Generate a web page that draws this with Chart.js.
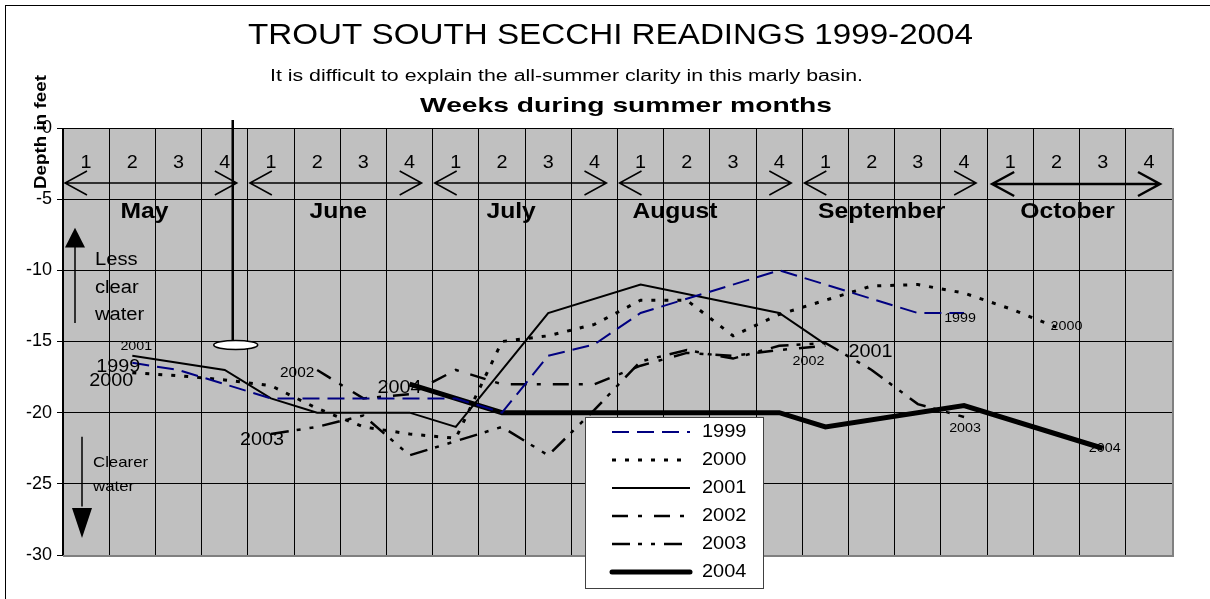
<!DOCTYPE html>
<html>
<head>
<meta charset="utf-8">
<title>Trout South Secchi Readings 1999-2004</title>
<script src="https://cdn.jsdelivr.net/npm/chart.js@4.4.1/dist/chart.umd.min.js"></script>
<style>
  html, body { margin: 0; padding: 0; background: #fff; }
  #wrap { width: 1210px; height: 599px; }
</style>
</head>
<body>
<div id="wrap"><canvas id="secchiChart" width="1210" height="599"></canvas></div>
<script>
// 4 weeks per month, May..October
const months = ["May", "June", "July", "August", "September", "October"];
const weekLabels = ["1", "2", "3", "4", "1", "2", "3", "4", "1", "2", "3", "4",
                    "1", "2", "3", "4", "1", "2", "3", "4", "1", "2", "3", "4"];
const years = ["1999", "2000", "2001", "2002", "2003", "2004"];
const yTickValues = [0, -5, -10, -15, -20, -25, -30];

// secchi depth in feet, one slot per week (null = no reading that week)
const depth1999 = [null, -16.5, -17, -18, -19, -19, -19, -19, -19, -20, -16, -15.2, -13, null, null, -10, null, null, -13, -13, null, null, null, null];
const depth2000 = [null, -17.2, -17.4, -17.7, -18.1, -19.7, -21, -21.5, -21.8, -15, -14.6, -13.8, -12.1, -12.1, -14.6, -13.1, -12.1, -11.1, -11, -11.6, -12.7, -14, null, null];
const depth2001 = [null, -16, null, -17, -19, -20, null, -20, -21, null, -13, null, -11, null, null, -13, -15.2, null, null, null, null, null, null, null];
const depth2002 = [null, null, null, null, null, -17, -19, -18.7, -17, -18, -18, -18, -16.7, -15.8, -16, -15.6, -15.3, null, null, null, null, null, null, null];
const depth2003 = [null, null, null, null, -21.5, -21, -20.2, -23, -22, -21, -23, -19.8, -16.4, -15.6, -16.2, -15.3, -15.1, -17, -19.4, -20.3, null, null, null, null];
const depth2004 = [null, null, null, null, null, null, null, -18, null, -20, null, null, null, null, null, -20, -21, null, null, -19.5, null, null, -22.5, null];

const fontFam = "Arial, 'Liberation Sans', Helvetica, sans-serif";

// the original picture is a bit wider than normal Arial, so text gets stretched sideways
function stretchText(ctx, txt, x, y, font, sx, align) {
    ctx.save();
    ctx.font = font;
    ctx.textAlign = align || "center";
    ctx.translate(x, y);
    ctx.scale(sx, 1);
    ctx.fillText(txt, 0, 0);
    ctx.restore();
}

function fitText(ctx, txt, cx, y, font, width) {
    ctx.save();
    ctx.font = font;
    const w = ctx.measureText(txt).width;
    ctx.textAlign = "center";
    ctx.translate(cx, y);
    ctx.scale(width / w, 1);
    ctx.fillText(txt, 0, 0);
    ctx.restore();
}

function openArrow(ctx, x1, x2, y, lw) {
    ctx.lineWidth = lw;
    ctx.beginPath();
    ctx.moveTo(x1, y);
    ctx.lineTo(x2, y);
    ctx.moveTo(x1 + 22, y - 12);
    ctx.lineTo(x1, y);
    ctx.lineTo(x1 + 22, y + 12);
    ctx.moveTo(x2 - 22, y - 12);
    ctx.lineTo(x2, y);
    ctx.lineTo(x2 - 22, y + 12);
    ctx.stroke();
}

// year labels at the first and last reading: [size, dx, dy]
const yearLabelStyle = {
    "1999": { start: [18, -14, 4], end: [13, -4, 5] },
    "2000": { start: [18, -21, 8], end: [13, 10, -1] },
    "2001": { start: [13, 4, -9], end: [18, 45, 8] },
    "2002": { start: [14, -20, 3], end: [13, -17, 16] },
    "2003": { start: [18, -9, 6], end: [13, 1, 11] },
    "2004": { start: [18, -10, 4], end: [13, 2, 0] }
};

const decorPlugin = {
    id: "decor",
    beforeDraw(chart) {
        const ctx = chart.ctx;
        const a = chart.chartArea;
        ctx.save();
        ctx.fillStyle = "#fff";
        ctx.fillRect(0, 0, chart.width, chart.height);
        ctx.strokeStyle = "#000";
        ctx.lineWidth = 1;
        ctx.strokeRect(5.5, 5.5, 1400, 1400);
        ctx.fillStyle = "#c0c0c0";
        ctx.fillRect(a.left, a.top, a.right - a.left, a.bottom - a.top);
        ctx.restore();
    },
    beforeDatasetsDraw(chart) {
        const ctx = chart.ctx;
        const a = chart.chartArea;
        const xs = chart.scales.x;
        const ys = chart.scales.y;
        const colW = (a.right - a.left) / weekLabels.length;
        ctx.save();

        // plot frame, right and bottom
        ctx.strokeStyle = "#808080";
        ctx.lineWidth = 2;
        ctx.beginPath();
        ctx.moveTo(a.right + 1, a.top);
        ctx.lineTo(a.right + 1, a.bottom + 1);
        ctx.lineTo(a.left, a.bottom + 1);
        ctx.stroke();

        ctx.fillStyle = "#000";
        ctx.strokeStyle = "#000";
        ctx.textBaseline = "alphabetic";

        // week numbers
        weekLabels.forEach(function (w, i) {
            stretchText(ctx, w, xs.getPixelForValue(i), a.top + 40, "18px " + fontFam, 1.1);
        });

        // month arrows and names
        const nudge = [-11, -2, -14, -35, -13, -12];
        months.forEach(function (m, k) {
            const start = xs.getPixelForValue(k * 4) - colW / 2;
            const end = xs.getPixelForValue(k * 4 + 3) + colW / 2;
            const last = k === months.length - 1;
            openArrow(ctx, start + (last ? 5 : 2), end - (last ? 12 : 11), a.top + (last ? 56 : 55), last ? 2.5 : 1.5);
            stretchText(ctx, m, (start + end) / 2 + nudge[k], a.top + 90, "bold 22px " + fontFam, 1.12);
        });

        // "less clear" arrow
        const ux = a.left + 12;
        ctx.lineWidth = 1.5;
        ctx.beginPath();
        ctx.moveTo(ux, ys.getPixelForValue(-13.7));
        ctx.lineTo(ux, ys.getPixelForValue(-8.3));
        ctx.stroke();
        ctx.beginPath();
        ctx.moveTo(ux, ys.getPixelForValue(-7));
        ctx.lineTo(ux - 10, ys.getPixelForValue(-8.4));
        ctx.lineTo(ux + 10, ys.getPixelForValue(-8.4));
        ctx.closePath();
        ctx.fill();
        stretchText(ctx, "Less", a.left + 32, ys.getPixelForValue(-9.6), "18px " + fontFam, 1.12, "left");
        stretchText(ctx, "clear", a.left + 32, ys.getPixelForValue(-11.6), "18px " + fontFam, 1.12, "left");
        stretchText(ctx, "water", a.left + 32, ys.getPixelForValue(-13.5), "18px " + fontFam, 1.12, "left");

        // "clearer" arrow
        const dx = a.left + 19;
        ctx.beginPath();
        ctx.moveTo(dx, ys.getPixelForValue(-21.7));
        ctx.lineTo(dx, ys.getPixelForValue(-26.6));
        ctx.stroke();
        ctx.beginPath();
        ctx.moveTo(dx, ys.getPixelForValue(-28.8));
        ctx.lineTo(dx - 10, ys.getPixelForValue(-26.7));
        ctx.lineTo(dx + 10, ys.getPixelForValue(-26.7));
        ctx.closePath();
        ctx.fill();
        stretchText(ctx, "Clearer", a.left + 30, ys.getPixelForValue(-23.8), "15px " + fontFam, 1.12, "left");
        stretchText(ctx, "water", a.left + 30, ys.getPixelForValue(-25.5), "15px " + fontFam, 1.12, "left");

        // secchi disk on its rope
        const sx = xs.getPixelForValue(3) + 8;
        const sy = ys.getPixelForValue(-15);
        ctx.lineWidth = 2.5;
        ctx.beginPath();
        ctx.moveTo(sx, a.top - 8);
        ctx.lineTo(sx, sy);
        ctx.stroke();
        ctx.fillStyle = "#fff";
        ctx.lineWidth = 1.5;
        ctx.beginPath();
        ctx.ellipse(sx + 3, sy + 3.5, 22, 4.5, 0, 0, Math.PI * 2);
        ctx.fill();
        ctx.stroke();
        ctx.restore();
    },
    afterDatasetsDraw(chart) {
        const ctx = chart.ctx;
        ctx.save();
        ctx.fillStyle = "#000";
        ctx.textBaseline = "middle";

        // year labels at both ends of each line
        chart.data.datasets.forEach(function (ds, i) {
            const meta = chart.getDatasetMeta(i);
            const st = yearLabelStyle[ds.label];
            let first = -1, last = -1;
            ds.data.forEach(function (v, j) {
                if (v !== null) {
                    if (first < 0) first = j;
                    last = j;
                }
            });
            const p0 = meta.data[first];
            const p1 = meta.data[last];
            stretchText(ctx, ds.label, p0.x + st.start[1], p0.y + st.start[2], st.start[0] + "px " + fontFam, 1.1);
            stretchText(ctx, ds.label, p1.x + st.end[1], p1.y + st.end[2], st.end[0] + "px " + fontFam, 1.1);
        });

        // legend box, sitting over the plot
        const lx = 585, ly = 417, lw = 178, lh = 171;
        ctx.fillStyle = "#fff";
        ctx.fillRect(lx, ly, lw, lh);
        ctx.strokeStyle = "#404040";
        ctx.lineWidth = 1;
        ctx.strokeRect(lx + 0.5, ly + 0.5, lw, lh);
        chart.data.datasets.forEach(function (ds, i) {
            const ry = ly + 15 + i * 28;
            ctx.strokeStyle = ds.borderColor;
            ctx.lineWidth = ds.borderWidth;
            ctx.setLineDash(ds.borderDash || []);
            ctx.lineCap = ds.borderWidth > 3 ? "round" : "butt";
            ctx.beginPath();
            ctx.moveTo(lx + 27, ry);
            ctx.lineTo(lx + 105, ry);
            ctx.stroke();
            ctx.setLineDash([]);
            ctx.fillStyle = "#000";
            stretchText(ctx, ds.label, lx + 117, ry, "19px " + fontFam, 1.05, "left");
        });
        ctx.restore();
    },
    afterDraw(chart) {
        const ctx = chart.ctx;
        ctx.save();
        ctx.fillStyle = "#000";
        ctx.textBaseline = "alphabetic";
        fitText(ctx, "TROUT SOUTH SECCHI READINGS 1999-2004", 610.5, 44, "30px " + fontFam, 725);
        fitText(ctx, "It is difficult to explain the all-summer clarity in this marly basin.", 566.5, 81, "16px " + fontFam, 593);
        fitText(ctx, "Weeks during summer months", 626, 112, "bold 21px " + fontFam, 412);
        ctx.translate(46, 132);
        ctx.rotate(-Math.PI / 2);
        fitText(ctx, "Depth in feet", 0, 0, "bold 17px " + fontFam, 114);
        ctx.restore();
    }
};

const lineStyles = {
    "1999": { color: "#000080", width: 2, dash: [17, 8] },
    "2000": { color: "#000", width: 3, dash: [4, 9] },
    "2001": { color: "#000", width: 2, dash: [] },
    "2002": { color: "#000", width: 2.5, dash: [16, 10, 4, 12] },
    "2003": { color: "#000", width: 2.5, dash: [18, 8, 4, 9, 4, 9] },
    "2004": { color: "#000", width: 5, dash: [] }
};

const seriesData = [depth1999, depth2000, depth2001, depth2002, depth2003, depth2004];

const datasets = seriesData.map(function (values, i) {
    const st = lineStyles[years[i]];
    return {
        label: years[i],
        data: values,
        borderColor: st.color,
        borderWidth: st.width,
        borderDash: st.dash,
        backgroundColor: st.color,
        fill: false,
        spanGaps: true,
        pointRadius: 0,
        tension: 0,
        borderJoinStyle: "miter"
    };
});

const ctx = document.getElementById("secchiChart").getContext("2d");
new Chart(ctx, {
    type: "line",
    data: { labels: weekLabels, datasets: datasets },
    options: {
        responsive: false,
        animation: false,
        devicePixelRatio: 1,
        layout: { padding: { top: 128, right: 38, bottom: 44, left: 0 } },
        plugins: {
            legend: { display: false },
            title: { display: false },
            tooltip: { enabled: false }
        },
        scales: {
            x: {
                type: "category",
                offset: true,
                grid: { offset: true, color: "#000", lineWidth: 1, drawTicks: false },
                border: { color: "#000" },
                ticks: { display: false },
                afterFit: function (s) { s.height = 0; }
            },
            y: {
                min: -30,
                max: 0,
                afterBuildTicks: function (s) {
                    s.ticks = yTickValues.map(function (v) { return { value: v }; });
                },
                grid: { color: "#000", lineWidth: 1, tickLength: 6 },
                border: { color: "#000" },
                ticks: { color: "#000", font: { family: fontFam, size: 18 }, padding: 5 },
                afterFit: function (s) { s.width = 63; }
            }
        }
    },
    plugins: [decorPlugin]
});
</script>
</body>
</html>
